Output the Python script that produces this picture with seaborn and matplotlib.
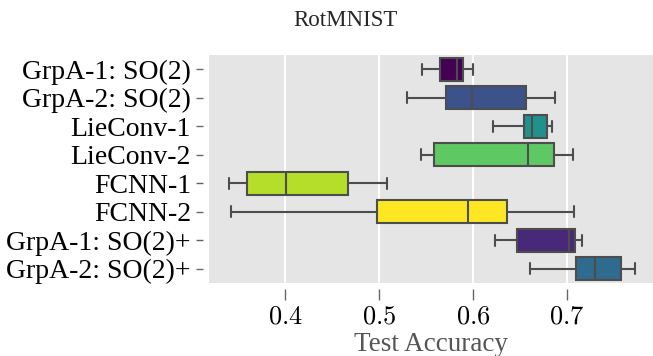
import matplotlib
matplotlib.use("Agg")
import matplotlib.pyplot as plt
import seaborn as sns
import pandas as pd
from matplotlib.ticker import FuncFormatter

# ---- data ----
models = ["GrpA-1: SO(2)", "GrpA-2: SO(2)", "LieConv-1", "LieConv-2",
          "FCNN-1", "FCNN-2", "GrpA-1: SO(2)+", "GrpA-2: SO(2)+"]
# five runs per model: min, q1, median, q3, max
grpa1_so2 = [0.546, 0.565, 0.583, 0.589, 0.600]
grpa2_so2 = [0.530, 0.571, 0.599, 0.656, 0.687]
lieconv1 = [0.621, 0.654, 0.663, 0.679, 0.684]
lieconv2 = [0.545, 0.558, 0.658, 0.686, 0.706]
fcnn1 = [0.340, 0.360, 0.401, 0.467, 0.509]
fcnn2 = [0.343, 0.498, 0.595, 0.636, 0.707]
grpa1_so2p = [0.623, 0.647, 0.702, 0.709, 0.716]
grpa2_so2p = [0.661, 0.710, 0.730, 0.757, 0.772]
series = [grpa1_so2, grpa2_so2, lieconv1, lieconv2, fcnn1, fcnn2,
          grpa1_so2p, grpa2_so2p]
colors = ["#440154", "#3b528b", "#21918c", "#5ec962",
          "#b5de2b", "#fde725", "#482878", "#2f6b8e"]
xticks = [0.4, 0.5, 0.6, 0.7]

rows = []
for m, vals in zip(models, series):
    for v in vals:
        rows.append({"Model": m, "Test Accuracy": v})
df = pd.DataFrame(rows)

sns.set_theme(style="darkgrid")
plt.rcParams["font.family"] = ["Liberation Serif", "DejaVu Serif"]
plt.rcParams["mathtext.fontset"] = "cm"

fig = plt.figure(figsize=(6.53, 3.56), dpi=100)
ax = fig.add_axes([209 / 653, 1 - 283 / 356, 1 - 209 / 653, (283 - 55) / 356])
ax.set_facecolor("#e5e5e5")

sns.boxplot(data=df, x="Test Accuracy", y="Model", hue="Model",
            order=models, hue_order=models, palette=colors, legend=False,
            saturation=1, width=0.8, linewidth=1.5, linecolor="#4d4d4d",
            ax=ax, whis=1.5, showfliers=False)

ax.set_xlim(0.3191, 0.7915)
ax.set_ylim(7.5, -0.5)
ax.set_xticks(xticks)
ax.xaxis.set_major_formatter(FuncFormatter(lambda v, p: f"${v:.1f}$"))
ax.grid(axis="x", color="white", linewidth=1.4)
ax.grid(axis="y", visible=False)
for s in ax.spines.values():
    s.set_visible(False)
ax.spines["bottom"].set_position(("outward", 4))
ax.spines["left"].set_position(("outward", 4))
ax.tick_params(axis="x", which="major", bottom=True, length=8, width=1,
               color="#666666", labelsize=19, pad=5, labelcolor="black")
ax.tick_params(axis="y", which="major", left=True, length=5, width=1,
               color="#666666", labelsize=20, pad=4, labelcolor="black")
ax.set_ylabel("")
ax.set_xlabel("Test Accuracy", fontsize=19.5, color="#555555", labelpad=2.5)
ax.set_title("RotMNIST", fontsize=16.5, x=(345 - 209) / (653 - 209), pad=21)

fig.savefig("out.png", dpi=100)
